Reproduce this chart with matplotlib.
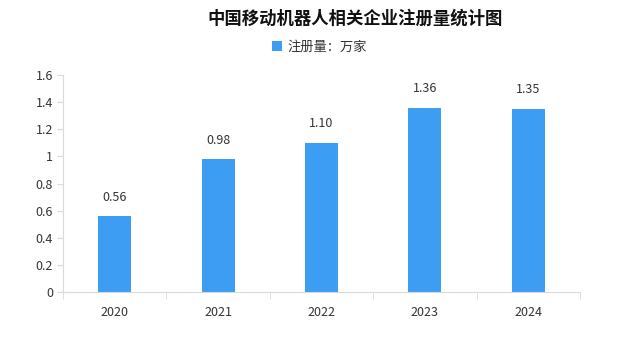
import matplotlib
matplotlib.use("Agg")
import matplotlib.pyplot as plt

plt.rcParams['font.family'] = ['Noto Sans CJK SC', 'DejaVu Sans']

years = ["2020", "2021", "2022", "2023", "2024"]
counts = [0.56, 0.98, 1.10, 1.36, 1.35]
value_labels = ["0.56", "0.98", "1.10", "1.36", "1.35"]

fig = plt.figure(figsize=(6.36, 3.56), dpi=100)
ax = fig.add_axes([0.099, 0.180, 0.813, 0.609])

x = list(range(len(years)))
ax.bar(x, counts, width=0.32, color="#3d9df3", label="注册量：万家", zorder=2)

for xi, v, lab in zip(x, counts, value_labels):
    ax.annotate(lab, (xi, v), xytext=(0, 9), textcoords="offset points",
                ha="center", va="bottom", fontsize=9, color="#333333")

ax.set_xlim(-0.5, len(years) - 0.5)
ax.set_ylim(0, 1.6)
ax.set_yticks([0, 0.2, 0.4, 0.6, 0.8, 1.0, 1.2, 1.4, 1.6])
ax.set_yticklabels(["0", "0.2", "0.4", "0.6", "0.8", "1", "1.2", "1.4", "1.6"])
ax.set_xticks(x)
ax.set_xticklabels(years)

# category boundary ticks on x axis
ax.set_xticks([i - 0.5 for i in range(len(years) + 1)], minor=True)
ax.tick_params(axis="x", which="major", length=0, pad=10, labelsize=9, colors="#333333")
ax.tick_params(axis="x", which="minor", length=5, color="#d9d9d9")
ax.tick_params(axis="y", length=4, color="#d9d9d9", labelsize=9, labelcolor="#333333", pad=3)

for s in ["top", "right"]:
    ax.spines[s].set_visible(False)
ax.spines["left"].set_color("#d9d9d9")
ax.spines["bottom"].set_color("#d9d9d9")

fig.text(0.558, 0.948, "中国移动机器人相关企业注册量统计图", ha="center", va="center",
         fontsize=12.5, fontweight="bold", color="#111111")
ax.legend(loc="center", bbox_to_anchor=(0.502, 0.868), bbox_transform=fig.transFigure,
          frameon=False, fontsize=9.5, handlelength=0.8, handleheight=0.8,
          handletextpad=0.4, labelcolor="#333333")

fig.savefig("out.png", dpi=100)
